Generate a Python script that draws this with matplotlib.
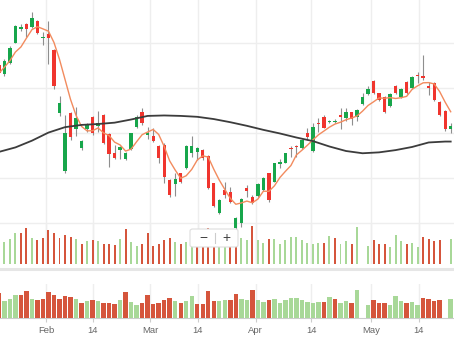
import numpy as np
import pandas as pd
import matplotlib
matplotlib.use("Agg")
import matplotlib.pyplot as plt
from matplotlib.patches import FancyBboxPatch
from matplotlib.lines import Line2D

plt.rcParams['font.family'] = ['Liberation Sans', 'DejaVu Sans']

# daily prices (first bar is cut at the left edge)
opens = [45.11, 43.11, 45.63, 50.07, 53.04, 54.15, 53.48, 54.96, 51.04, 51.93,
         48.44, 34.37, 21.63, 34.52, 30.81, 26.74, 30.81, 33.63, 31.56, 34.00,
         29.70, 25.63, 26.22, 24.22, 26.44, 31.26, 34.74, 29.56, 29.33, 27.19,
         27.33, 19.56, 18.67, 21.04, 22.15, 25.48, 25.85, 26.22, 24.89, 18.81,
         12.15, 17.33, 16.96, 8.89, 10.00, 17.70, 15.70, 16.00, 17.33, 21.04,
         19.19, 23.11, 23.41, 26.74, 27.19, 26.59, 29.93, 26.07, 32.30, 33.48,
         32.37, 32.37, 34.00, 33.26, 34.59, 33.63, 36.44, 38.59, 41.56, 38.81,
         38.07, 36.00, 40.44, 37.93, 41.41, 39.93, 42.90, 42.67, 40.44, 41.19,
         36.96, 34.89, 30.81]
highs = [45.48, 46.37, 49.33, 54.00, 54.22, 54.37, 56.96, 55.11, 52.52, 54.96,
         48.59, 38.22, 34.00, 34.74, 35.70, 28.44, 32.15, 33.78, 34.89, 34.15,
         29.93, 27.33, 27.19, 25.85, 30.07, 34.00, 35.48, 31.41, 31.19, 27.33,
         27.70, 19.70, 21.04, 21.19, 27.33, 29.33, 26.96, 26.37, 25.11, 18.96,
         15.26, 19.19, 18.07, 11.41, 15.48, 18.44, 16.22, 18.81, 20.15, 21.19,
         23.41, 24.15, 25.63, 27.19, 27.33, 28.59, 31.19, 32.15, 33.26, 34.00,
         32.89, 33.04, 35.63, 35.63, 34.74, 35.26, 38.81, 40.44, 41.70, 38.96,
         38.22, 38.96, 40.59, 39.93, 41.56, 42.67, 43.63, 47.33, 41.41, 41.33,
         37.11, 35.11, 32.30]
lows = [42.89, 42.67, 45.33, 49.93, 52.74, 51.26, 53.26, 51.93, 49.56, 45.33,
        39.70, 33.78, 21.19, 28.44, 29.33, 26.22, 30.30, 29.56, 30.30, 27.56,
        22.37, 24.15, 24.15, 24.00, 26.22, 31.04, 31.78, 28.59, 28.07, 23.26,
        18.96, 15.85, 16.07, 18.96, 22.00, 24.74, 24.00, 24.00, 17.48, 13.63,
        12.00, 15.48, 14.37, 8.67, 9.19, 15.85, 14.22, 15.85, 17.19, 14.74,
        19.04, 22.15, 23.26, 24.74, 24.74, 26.44, 28.44, 25.85, 30.30, 31.04,
        32.15, 32.15, 30.81, 32.74, 31.78, 32.74, 36.22, 38.44, 38.67, 37.19,
        34.37, 35.85, 38.67, 37.70, 38.59, 39.70, 41.04, 41.78, 38.44, 37.19,
        33.85, 30.52, 29.93]
closes = [43.26, 46.00, 48.96, 53.78, 53.63, 53.04, 55.48, 52.15, 51.41, 51.04,
          40.44, 36.74, 29.93, 29.19, 33.26, 28.22, 31.78, 30.07, 32.30, 27.70,
          25.26, 24.52, 26.96, 25.48, 29.93, 33.48, 32.30, 29.93, 28.30, 24.37,
          20.15, 16.22, 19.78, 19.19, 27.19, 27.19, 26.59, 24.52, 17.70, 13.78,
          15.11, 16.22, 14.59, 11.11, 15.26, 17.19, 14.37, 18.59, 19.93, 15.11,
          23.26, 23.63, 25.48, 26.37, 26.96, 28.44, 29.19, 31.41, 32.00, 31.19,
          32.74, 32.60, 33.48, 34.74, 33.04, 35.11, 37.93, 39.78, 38.81, 37.33,
          34.74, 38.67, 38.81, 39.70, 38.81, 42.52, 42.60, 42.15, 39.93, 37.33,
          34.00, 30.81, 31.56]
volume = [33.0, 21.8, 24.5, 30.2, 30.2, 36.0, 25.3, 23.8, 25.3, 33.6,
          30.5, 25.1, 28.6, 27.0, 24.5, 19.7, 22.5, 23.5, 22.2, 19.2,
          19.2, 18.8, 24.3, 34.2, 21.6, 17.5, 20.0, 30.5, 18.0, 19.5,
          24.0, 26.0, 22.0, 20.0, 22.0, 29.0, 19.0, 18.0, 35.5, 22.4,
          22.0, 23.5, 24.0, 31.0, 25.5, 23.5, 37.4, 23.5, 21.0, 24.2,
          25.0, 20.0, 23.2, 26.5, 26.5, 24.0, 21.0, 20.0, 21.0, 21.0,
          27.5, 25.5, 20.0, 23.0, 19.5, 36.5, 0.0, 17.5, 23.5, 19.5,
          19.5, 17.0, 28.5, 22.3, 20.0, 21.0, 17.0, 26.6, 24.4, 22.7,
          23.2, 0.0, 25.0]

# long moving average, read at every third bar
ma_long_idx = [-1, 2, 5, 8, 11, 14, 17, 20, 23, 26, 29, 32, 35, 38, 41, 44,
               47, 50, 53, 56, 59, 62, 65, 68, 71, 74, 77, 80, 81]
ma_long = [25.8, 26.8, 28.3, 30.1, 31.3, 31.8, 32.0, 32.3, 33.0, 33.8, 33.9,
           33.8, 33.6, 33.1, 32.4, 31.6, 30.7, 29.9, 29.0, 28.2, 27.0, 26.0,
           25.5, 25.7, 26.2, 26.9, 27.9, 28.1, 28.1]

tick_pos = [7.55, 16.08, 26.5, 35.05, 45.63, 55.7, 66.48, 75.24]
tick_labels = ['Feb', '14', 'Mar', '14', 'Apr', '14', 'May', '14']

W, H = 454, 341
X0, X1 = -0.80, 81.6
GREEN, RED = '#17a64b', '#f0352e'
VGREEN, VRED = '#a8d898', '#d5553c'
GRID = '#eeeeee'

o = np.array(opens); hi = np.array(highs); lo = np.array(lows); c = np.array(closes)
v = np.array(volume)
x = np.arange(-1, len(o) - 1)

up = c >= o
prev = np.concatenate([[o[0]], c[:-1]])
vup = c >= prev
ma5 = pd.Series(c).rolling(5, min_periods=1).mean()

fig = plt.figure(figsize=(W / 100, H / 100), dpi=100)

def rect(top, bottom):
    # pixel rows -> figure box
    return [0, 1 - bottom / H, 1, (bottom - top) / H]

# price panel
ax = fig.add_axes(rect(0, 263.5))
ax.set_xlim(X0, X1)
ax.set_ylim(1.0, 59.56)
ax.set_yticks([10, 20, 30, 40, 50])
ax.set_xticks(tick_pos)
ax.grid(True, color=GRID, lw=1)
ax.tick_params(length=0, labelleft=False, labelbottom=False)
for s in ax.spines.values():
    s.set_visible(False)
ax.patch.set_alpha(0)
ax.set_axisbelow(True)

ax.vlines(x, lo, hi, color='#8e8e8e', lw=0.8, zorder=2)
ax.bar(x, np.maximum(np.abs(c - o), 0.18), 0.6, bottom=np.minimum(o, c),
       color=np.where(up, GREEN, RED), lw=0, zorder=3)
ax.plot(x, ma5, color='#f28b5e', lw=1.0, zorder=4)
ax.plot(ma_long_idx, ma_long, color='#3c3c3c', lw=1.3, zorder=4)

# volume panel
axv = fig.add_axes(rect(224, 263.5))
axv.set_xlim(X0, X1)
axv.set_ylim(0, 39.5)
axv.bar(x, v, 0.36, color=np.where(vup, VGREEN, VRED), lw=0, zorder=3)
axv.set_xticks(tick_pos)
axv.grid(True, axis='x', color=GRID, lw=1)
axv.set_axisbelow(True)
axv.tick_params(length=0, labelleft=False, labelbottom=False)
axv.set_yticks([])
axv.patch.set_alpha(0)
for s in axv.spines.values():
    s.set_visible(False)

fig.add_artist(Line2D([0, 1], [1 - 268.5 / H] * 2, color='#e6e6e6', lw=2.2))

# navigator panel
axn = fig.add_axes(rect(284, 318))
axn.set_xlim(X0, X1)
axn.set_ylim(0, 34 / 0.76)
axn.bar(x, v, 0.8, color=np.where(vup, VGREEN, VRED), lw=0, zorder=3)
axn.set_xticks(tick_pos)
axn.set_xticklabels(tick_labels)
axn.set_yticks([])
axn.grid(True, axis='x', color=GRID, lw=1)
axn.set_axisbelow(True)
axn.tick_params(axis='x', length=3, color='#cccccc', labelsize=6.8,
                labelcolor='#666666', pad=2.5)
axn.patch.set_alpha(0)
for k, s in axn.spines.items():
    s.set_visible(k == 'bottom')
axn.spines['bottom'].set_color('#cccccc')
axn.spines['bottom'].set_linewidth(0.8)

# zoom buttons
box = FancyBboxPatch((190 / W, 1 - 247 / H), 48 / W, 18 / H,
                     boxstyle='round,pad=0,rounding_size=0.006',
                     transform=fig.transFigure, facecolor='white',
                     edgecolor='#dddddd', lw=0.8, zorder=10)
fig.add_artist(box)
fig.add_artist(Line2D([215 / W] * 2, [1 - 243 / H, 1 - 233 / H],
                      color='#cccccc', lw=0.8, zorder=11))
fig.text(203 / W, 1 - 238 / H, '\u2212', ha='center', va='center',
         fontsize=10, color='#444444', zorder=12)
fig.text(226 / W, 1 - 238 / H, '+', ha='center', va='center',
         fontsize=10, color='#444444', zorder=12)

fig.savefig('out.png', dpi=100)
